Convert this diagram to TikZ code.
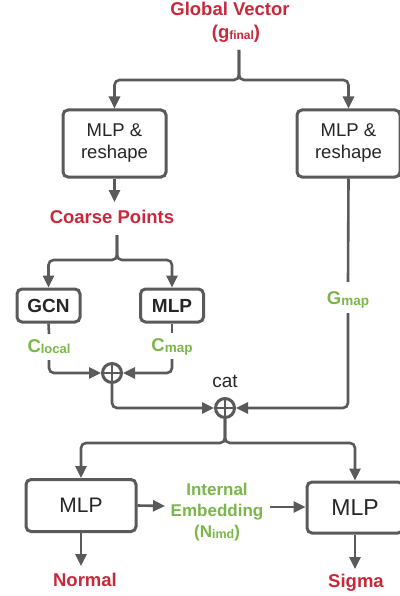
\documentclass[tikz,border=0pt]{standalone}
\usepackage{fontspec}
\setmainfont{Liberation Sans}
\usetikzlibrary{arrows.meta}
\definecolor{lred}{HTML}{C8283A}
\definecolor{lgreen}{HTML}{7AB648}
\definecolor{lgray}{HTML}{5A5A5A}
\newcommand{\fs}[1]{\fontsize{#1}{#1}\selectfont}
\newcommand{\lsub}[2]{{\fs{#1}\raisebox{-1pt}{#2}}}
\tikzset{
  conn/.style={draw=lgray, line width=2.6pt, rounded corners=5pt},
  arr/.style={conn, -{Triangle[length=12pt,width=11pt]}},
  box/.style={draw=lgray, line width=3pt, rounded corners=5pt, fill=white, inner sep=0pt, align=center, text=black!85},
  redlbl/.style={text=lred, font=\bfseries\fs{18.5}, inner sep=0pt, align=center},
  greenlbl/.style={text=lgreen, font=\bfseries\fs{18.5}, inner sep=0pt, align=center},
  opl/.style={circle, draw=lgray, line width=3pt, minimum size=19pt, inner sep=0pt,
    path picture={\draw[lgray, line width=2.8pt] (path picture bounding box.north) -- (path picture bounding box.south)
      (path picture bounding box.west) -- (path picture bounding box.east);}},
}
\begin{document}
\begin{tikzpicture}[x=1pt,y=-1pt]
\useasboundingbox (0,0) rectangle (399,596);
% top
\node[redlbl] (gv) at (230,9) {Global Vector};
\node[redlbl, anchor=base] (gf) at (236,39) {(g\lsub{12}{final})};
\node[box, minimum width=103pt, minimum height=67pt, font=\fs{18.5}] (mlp1) at (114.5,143.5) {MLP \&\\[3.5pt]reshape};
\node[box, minimum width=103pt, minimum height=67pt, font=\fs{18.5}] (mlp2) at (348.5,143.5) {MLP \&\\[3.5pt]reshape};
\coordinate (j1) at (239,50);
\draw[arr] (j1) -- (239,80) -| (mlp1.north);
\draw[arr] (j1) -- (239,80) -| (mlp2.north);
\node[redlbl] (cp) at (112,217) {Coarse Points};
\draw[arr] (mlp1.south) -- (114.5,202);
% coarse branch
\node[box, minimum width=63pt, minimum height=33pt, font=\bfseries\fs{19}] (gcn) at (48.5,305.5) {GCN};
\node[box, minimum width=63pt, minimum height=33pt, font=\bfseries\fs{19}] (mlpc) at (172,305.5) {MLP};
\coordinate (j2) at (117,235);
\draw[arr] (j2) -- (117,260) -| (gcn.north);
\draw[arr] (j2) -- (117,260) -| (mlpc.north);
\node[greenlbl, anchor=base] (cl) at (49,352) {C\lsub{13}{local}};
\node[greenlbl, anchor=base] (cm) at (172,351) {C\lsub{13.5}{map}};
\node[opl] (o1) at (112,373) {};
\draw[conn] (gcn.south) -- (49,334);
\draw[conn] (mlpc.south) -- (172,333);
\draw[arr] (49,360) |- (o1.west);
\draw[arr] (172,359) |- (o1.east);
% Gmap
\node[greenlbl, anchor=base] (gm) at (348,304) {G\lsub{13.5}{map}};
\draw[conn] (mlp2.south) -- (348,282);
\node[opl] (o2) at (225,408) {};
\node[inner sep=0pt, font=\fs{19}, text=black!85] (cat) at (225,381) {cat};
\draw[arr] (348,313) |- (o2.east);
\draw[arr] (o1.south) |- (o2.west);
% bottom
\node[box, minimum width=110pt, minimum height=52pt, font=\fs{21}] (mlp3) at (81,505.5) {MLP};
\node[box, minimum width=96pt, minimum height=51pt, font=\fs{23}] (mlp4) at (355,507.5) {MLP};
\draw[arr] (o2.south) -- (225,443) -| (mlp3.north);
\draw[arr] (o2.south) -- (225,443) -| (mlp4.north);
\node[greenlbl, font=\bfseries\fs{17}, align=center] (ie) at (217,512) {Internal\\[4pt]Embedding\\[4pt](N\lsub{12.5}{imd})};
\coordinate (ieL) at (165,506);
\coordinate (ieR) at (270,507);
\draw[arr] (mlp3.east) -- (ieL);
\draw[arr] (ieR) -- (mlp4.west |- ieR);
\node[redlbl] (nm) at (85,580) {Normal};
\node[redlbl] (sg) at (356,583) {Sigma};
\draw[arr] (mlp3.south) -- (81,566);
\draw[arr] (mlp4.south) -- (355,569);
\end{tikzpicture}
\end{document}
